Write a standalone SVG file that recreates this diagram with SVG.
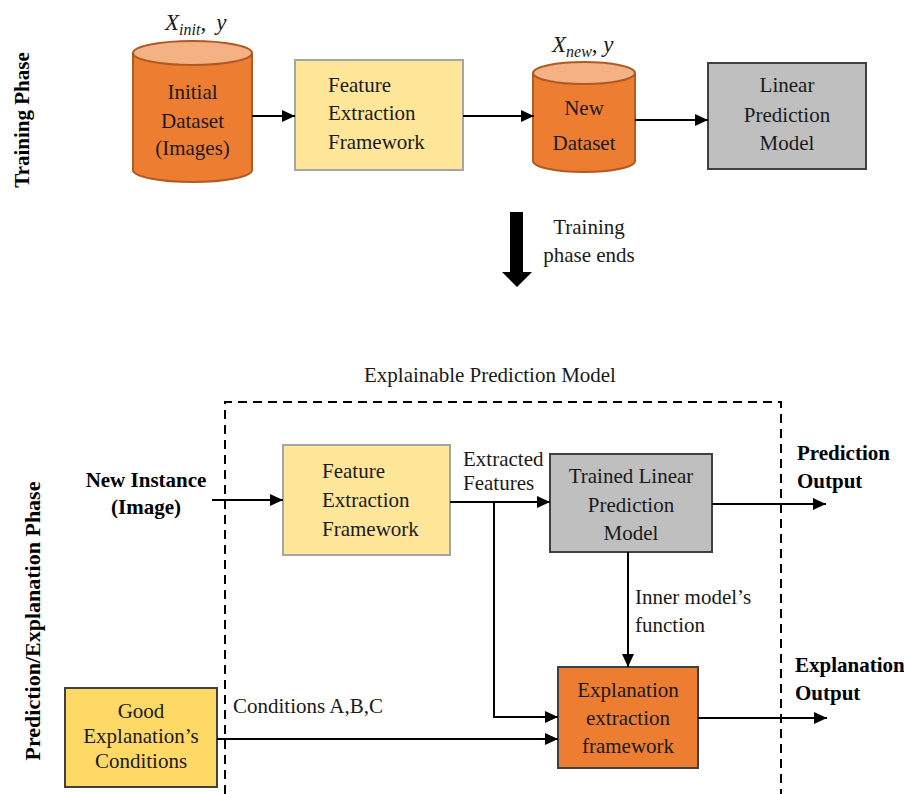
<svg xmlns="http://www.w3.org/2000/svg" width="904" height="794" viewBox="0 0 904 794">
<style>
text{font-family:"Liberation Serif","Times New Roman",serif;font-size:21px;fill:#1a1a1a}
.b{font-weight:bold;fill:#000}
.c{text-anchor:middle}
.m{font-style:italic;font-size:23px}
.sub{font-size:16px}
.cyl{fill:#ED7D31;stroke:#AE5A21;stroke-width:2}
.cylTop{fill:#F4B183;stroke:#AE5A21;stroke-width:2}
.conn{fill:none;stroke:#000;stroke-width:2}
.dash{fill:none;stroke:#000;stroke-width:2;stroke-dasharray:9,6}
</style>
<defs>
<marker id="ah" markerUnits="userSpaceOnUse" markerWidth="13" markerHeight="12" refX="13" refY="6" orient="auto">
<path d="M0,0 L13,6 L0,12 z" fill="#000"/>
</marker>
</defs>

<text class="b c" transform="translate(29,120) rotate(-90)">Training Phase</text>
<text class="b c" style="font-size:22px" transform="translate(40,621) rotate(-90)">Prediction/Explanation Phase</text>

<g id="initial-dataset">
<path class="cyl" d="M133,53 V170 A59.5,12 0 0 0 252,170 V53"/>
<ellipse class="cylTop" cx="192.5" cy="53" rx="59.5" ry="12"/>
<text class="m" x="165" y="30">X<tspan class="sub" dy="5">init</tspan><tspan dy="-5" style="font-style:normal">,</tspan><tspan dx="10">y</tspan></text>
<text class="c" x="192.5" y="99">Initial</text>
<text class="c" x="192.5" y="128">Dataset</text>
<text class="c" x="192.5" y="155">(Images)</text>
</g>

<g id="feature-extraction-train">
<rect x="295" y="60" width="168" height="110" fill="#FFE699" stroke="#A6A6A6" stroke-width="2"/>
<text x="328" y="92">Feature</text>
<text x="328" y="120">Extraction</text>
<text x="328" y="149">Framework</text>
</g>

<g id="new-dataset">
<path class="cyl" d="M533,73 V161 A51,11 0 0 0 635,161 V73"/>
<ellipse class="cylTop" cx="584" cy="73" rx="51" ry="11"/>
<text class="m" x="552" y="52">X<tspan class="sub" dy="5">new</tspan><tspan dy="-5" style="font-style:normal">, </tspan>y</text>
<text class="c" x="584" y="115">New</text>
<text class="c" x="584" y="150">Dataset</text>
</g>

<g id="linear-model">
<rect x="708" y="63" width="158" height="106" fill="#BFBFBF" stroke="#404040" stroke-width="2"/>
<text class="c" x="787" y="92">Linear</text>
<text class="c" x="787" y="122">Prediction</text>
<text class="c" x="787" y="150">Model</text>
</g>

<g id="training-ends">
<polygon points="510,212 523,212 523,272 532,272 517,287 502,272 510,272" fill="#000"/>
<text class="c" x="589" y="234">Training</text>
<text class="c" x="589" y="262">phase ends</text>
</g>

<g id="explainable-model">
<path class="dash" d="M225,794 V402 H781 V794"/>
<text class="c" x="490" y="382">Explainable Prediction Model</text>
</g>

<g id="new-instance">
<text class="b c" x="146" y="487">New Instance</text>
<text class="b c" x="146" y="514">(Image)</text>
</g>

<g id="feature-extraction-pred">
<rect x="283" y="445" width="167" height="110" fill="#FFE699" stroke="#A6A6A6" stroke-width="2"/>
<text x="322" y="478">Feature</text>
<text x="322" y="507">Extraction</text>
<text x="322" y="536">Framework</text>
</g>

<g id="trained-model">
<rect x="550" y="454" width="162" height="98" fill="#BFBFBF" stroke="#404040" stroke-width="2"/>
<text class="c" x="631" y="483">Trained Linear</text>
<text class="c" x="631" y="512">Prediction</text>
<text class="c" x="631" y="540">Model</text>
</g>

<g id="prediction-output">
<text class="b" x="797" y="460">Prediction</text>
<text class="b" x="797" y="488">Output</text>
</g>

<g id="explanation-framework">
<rect x="558" y="667" width="140" height="101" fill="#ED7D31" stroke="#404040" stroke-width="2"/>
<text class="c" x="628" y="697">Explanation</text>
<text class="c" x="628" y="725">extraction</text>
<text class="c" x="628" y="753">framework</text>
</g>

<g id="explanation-output">
<text class="b" x="795" y="672">Explanation</text>
<text class="b" x="795" y="700">Output</text>
</g>

<g id="good-conditions">
<rect x="65" y="688" width="152" height="99" fill="#FFD966" stroke="#404040" stroke-width="2"/>
<text class="c" x="141" y="718">Good</text>
<text class="c" x="141" y="743">Explanation’s</text>
<text class="c" x="141" y="768">Conditions</text>
</g>

<g id="connectors">
<path class="conn" d="M252,116 H295" marker-end="url(#ah)"/>
<path class="conn" d="M463,116 H534" marker-end="url(#ah)"/>
<path class="conn" d="M635,120 H708" marker-end="url(#ah)"/>
<path class="conn" d="M212,500 H283" marker-end="url(#ah)"/>
<path class="conn" d="M450,502 H550" marker-end="url(#ah)"/>
<path class="conn" d="M494,502 V717 H558" marker-end="url(#ah)"/>
<path class="conn" d="M712,504 H826" marker-end="url(#ah)"/>
<path class="conn" d="M628,552 V667" marker-end="url(#ah)"/>
<path class="conn" d="M698,718 H827" marker-end="url(#ah)"/>
<path class="conn" d="M217,739 H558" marker-end="url(#ah)"/>
<text x="463" y="466">Extracted</text>
<text x="463" y="490">Features</text>
<text x="635" y="604">Inner model’s</text>
<text x="635" y="632">function</text>
<text x="233" y="713">Conditions A,B,C</text>
</g>
</svg>
